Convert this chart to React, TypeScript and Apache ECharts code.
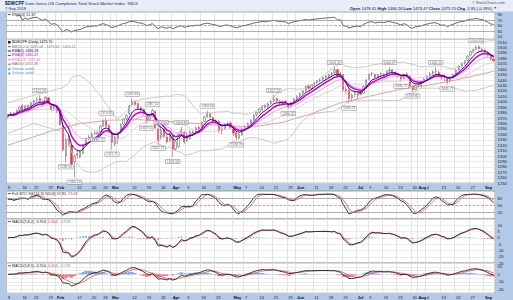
import { useEffect, useRef } from "react";
import * as echarts from "echarts";

const HOLIDAYS = ["2018-01-15", "2018-02-19", "2018-03-30", "2018-05-28", "2018-07-04", "2018-09-03"];

function tradingDays(start: string, end: string): string[] {
  const out: string[] = [];
  const d = new Date(start + "T00:00:00Z");
  const e = new Date(end + "T00:00:00Z");
  while (d <= e) {
    const wd = d.getUTCDay();
    const s = d.toISOString().slice(0, 10);
    if (wd !== 0 && wd !== 6 && HOLIDAYS.indexOf(s) < 0) out.push(s);
    d.setUTCDate(d.getUTCDate() + 1);
  }
  return out;
}
const dates = tradingDays("2018-01-08", "2018-09-07");

// [open, close, low, high]
const ohlc: number[][] = [
  [1372, 1375, 1369, 1377], [1376, 1378, 1373, 1381], [1379, 1376, 1372, 1381], [1377, 1384, 1375, 1386], [1385, 1390, 1382, 1392],
  [1393, 1385, 1383, 1396], [1386, 1392, 1384, 1394], [1393, 1390, 1387, 1395], [1391, 1398, 1389, 1400],
  [1399, 1402, 1396, 1404], [1403, 1404, 1399, 1408], [1406, 1400, 1397, 1412.26], [1401, 1396, 1392, 1404], [1398, 1408, 1396, 1410],
  [1407, 1398, 1396, 1409], [1396, 1385, 1382, 1397], [1388, 1390, 1383, 1394], [1391, 1383, 1379, 1394], [1381, 1358, 1356, 1383],
  [1356, 1312, 1308, 1360], [1300, 1330, 1288.34, 1333], [1331, 1322, 1318, 1340], [1320, 1285, 1283, 1322], [1290, 1300, 1260.14, 1303],
  [1304, 1302, 1295, 1312], [1298, 1308, 1296, 1310], [1305, 1320, 1303, 1322], [1321, 1332, 1318, 1334], [1333, 1335, 1329, 1339],
  [1334, 1340, 1331, 1344], [1342, 1341, 1339.8, 1348], [1341, 1343, 1338.71, 1347], [1345, 1355, 1343, 1357],
  [1356, 1365, 1354, 1367], [1366, 1355, 1353, 1370.8], [1356, 1345, 1343, 1359], [1344, 1325, 1311.75, 1347], [1322, 1335, 1318, 1337],
  [1333, 1342, 1322, 1344], [1343, 1358, 1341, 1360], [1359, 1368, 1356, 1370], [1369, 1375, 1365, 1377], [1378, 1392, 1376, 1394],
  [1394, 1400, 1392, 1405.84], [1401, 1395, 1392, 1403], [1397, 1388, 1386, 1399], [1389, 1385, 1382, 1392], [1386, 1378, 1374, 1388],
  [1376, 1365, 1359.55, 1378], [1367, 1372, 1364, 1375], [1373, 1384, 1371, 1387.32], [1382, 1352, 1350, 1384], [1350, 1328, 1322.74, 1353],
  [1335, 1348, 1330, 1353.65], [1350, 1336, 1332, 1352], [1335, 1326, 1323, 1340], [1328, 1340, 1326, 1343],
  [1338, 1312, 1298.33, 1340], [1313, 1326, 1310, 1328], [1318, 1340, 1315, 1342], [1342, 1348, 1339, 1353.8], [1344, 1326, 1322, 1346],
  [1328, 1335, 1326, 1345], [1332, 1345, 1330, 1348], [1344, 1342, 1338, 1348], [1345, 1352, 1343, 1354], [1353, 1350, 1346, 1356],
  [1352, 1362, 1350, 1364], [1364, 1372, 1362, 1374], [1373, 1378, 1370, 1383.84], [1377, 1372, 1369, 1380], [1371, 1364, 1361, 1373],
  [1365, 1362, 1358, 1368], [1364, 1346, 1342, 1367], [1347, 1350, 1340, 1353], [1351, 1358, 1348, 1360], [1359, 1360, 1355, 1363],
  [1361, 1352, 1350, 1364], [1350, 1342, 1337, 1354], [1343, 1334, 1328.73, 1346], [1333, 1340, 1330, 1342], [1339, 1350, 1337, 1352],
  [1351, 1352, 1347, 1356], [1353, 1360, 1350, 1362], [1361, 1366, 1358, 1368], [1367, 1375, 1365, 1377], [1376, 1380, 1373, 1382],
  [1381, 1386, 1378, 1388], [1385, 1392, 1383, 1394], [1393, 1390, 1386, 1395], [1391, 1396, 1388, 1398], [1397, 1400, 1394, 1403],
  [1402, 1405, 1399, 1412.54], [1406, 1402, 1398, 1408], [1401, 1398, 1394, 1404], [1397, 1400, 1393, 1403], [1401, 1399, 1395, 1403],
  [1396, 1390, 1386.32, 1398], [1391, 1398, 1389, 1400], [1397, 1405, 1395, 1407], [1406, 1410, 1403, 1412],
  [1411, 1415, 1408, 1417], [1416, 1420, 1413, 1422], [1421, 1428, 1418, 1430], [1429, 1425, 1421, 1432], [1424, 1430, 1421, 1432],
  [1431, 1434, 1428, 1436], [1435, 1438, 1432, 1440], [1439, 1440, 1435, 1443], [1441, 1445, 1437, 1447], [1444, 1447, 1440, 1449],
  [1446, 1450, 1443, 1452], [1451, 1452, 1446, 1455], [1453, 1458, 1450, 1464.32], [1459, 1448, 1445, 1461], [1449, 1452, 1444, 1455],
  [1450, 1422, 1418, 1451], [1423, 1420, 1414, 1428], [1421, 1406, 1396.29, 1426], [1407, 1412, 1401, 1415], [1414, 1415, 1409, 1420],
  [1412, 1418, 1405, 1420], [1420, 1414, 1412, 1423], [1416, 1428, 1414, 1430], [1427, 1440, 1425, 1442],
  [1441, 1450, 1439, 1452], [1451, 1452, 1447, 1455], [1450, 1445, 1442, 1452], [1446, 1450, 1443, 1452], [1451, 1452, 1447, 1454],
  [1451, 1450, 1446, 1453], [1449, 1456, 1447, 1458], [1457, 1458, 1453, 1464.37], [1459, 1455, 1451, 1460], [1454, 1452, 1448, 1456],
  [1451, 1448, 1444, 1453], [1447, 1442, 1436.77, 1449], [1443, 1450, 1441, 1452], [1451, 1446, 1443, 1454], [1447, 1428, 1425, 1449],
  [1429, 1422, 1418.82, 1431], [1423, 1430, 1421, 1432], [1431, 1432, 1427, 1435], [1430, 1436, 1426, 1438], [1437, 1442, 1434, 1444],
  [1443, 1447, 1440, 1449], [1448, 1452, 1445, 1455], [1453, 1455, 1450, 1458], [1455, 1456, 1451, 1464.16], [1454, 1450, 1446, 1457],
  [1449, 1444, 1440, 1451], [1445, 1446, 1438, 1450], [1444, 1436, 1431.77, 1446], [1438, 1444, 1436, 1446], [1445, 1450, 1442, 1452],
  [1451, 1458, 1449, 1460], [1459, 1465, 1457, 1467], [1466, 1470, 1463, 1472], [1471, 1474, 1468, 1477], [1476, 1484, 1474, 1486],
  [1486, 1492, 1484, 1494], [1493, 1496, 1490, 1498], [1497, 1500, 1494, 1504.33], [1501, 1498, 1494, 1503], [1497, 1496, 1491, 1500],
  [1495, 1492, 1486, 1497], [1491, 1486, 1482, 1493], [1485, 1478.55, 1475, 1488], [1478.41, 1475.7, 1473.47, 1484.26],
];

// MA(50) (sparse points)
const ma50Points: number[][] = [
  [0, 1320], [15, 1346], [25, 1360], [35, 1366], [45, 1367], [55, 1364], [65, 1360], [75, 1356], [85, 1354],
  [95, 1362], [105, 1378], [115, 1398], [125, 1410], [135, 1422], [145, 1430], [155, 1440], [168, 1456],
];
// Bollinger band values read for the first days (before a full 20-day window)
const bbUpperEarly: number[][] = [[0, 1398], [9, 1412]];
const bbMidEarly: number[][] = [[0, 1370], [9, 1386]];
const bbLowerEarly: number[][] = [[0, 1342], [9, 1360]];

const peakLabels: number[][] = [
  [11, 1412.26], [34, 1370.8], [43, 1405.84], [50, 1387.32], [53, 1353.65], [60, 1353.8], [69, 1383.84],
  [92, 1412.54], [113, 1464.32], [132, 1464.37], [148, 1464.16], [162, 1504.33],
];
const troughLabels: number[][] = [
  [20, 1288.34], [23, 1260.14], [31, 1338.71], [36, 1311.75], [48, 1359.55], [52, 1322.74], [57, 1298.33],
  [79, 1328.73], [97, 1386.32], [118, 1396.29], [136, 1436.77], [140, 1418.82], [152, 1431.77],
];

const dateTicks: [number, string][] = [
  [0, "8"], [5, "16"], [9, "22"], [14, "29"], [17, "Feb"], [24, "12"], [29, "20"], [33, "26"], [36, "Mar"],
  [43, "12"], [48, "19"], [53, "26"], [57, "Apr"], [62, "9"], [67, "16"], [72, "23"], [78, "May"], [82, "7"],
  [87, "14"], [92, "21"], [97, "29"], [100, "Jun"], [106, "11"], [111, "18"], [116, "25"], [121, "Jul"], [125, "9"],
  [130, "16"], [135, "23"], [140, "30"], [142, "Aug"], [145, "6"], [150, "13"], [155, "20"], [160, "27"], [165, "Sep"],
];
const extraGridDays: number[] = [19, 38];

const legendItems = [
  { text: "$DWCPF (Daily) 1475.70", color: "#000000", icon: "sq" },
  { text: "BB(20,2.0) 1495.08 - 1475.60 - 1456.12", color: "#777777", icon: "ln" },
  { text: "EMA(5) 1480.28", color: "#000080", icon: "ln" },
  { text: "EMA(8) 1482.45", color: "#cc00cc", icon: "ln" },
  { text: "EMA(13) 1483.46", color: "#ee77c8", icon: "ln" },
  { text: "MA(50) 1457.28", color: "#cc5050", icon: "ln" },
  { text: "Volume undef", color: "#4f94dd", icon: "tri" },
  { text: "Volume undef", color: "#4f94dd", icon: "tri" },
];

function ema(src: number[], n: number): number[] {
  const k = 2 / (n + 1);
  const out: number[] = [];
  src.forEach((v, i) => out.push(i === 0 ? v : v * k + out[i - 1] * (1 - k)));
  return out;
}
function sma(src: number[], n: number): number[] {
  return src.map((_, i) => {
    const s = Math.max(0, i - n + 1);
    let t = 0;
    for (let j = s; j <= i; j++) t += src[j];
    return t / (i - s + 1);
  });
}

export default function App() {
  const ref = useRef<HTMLDivElement>(null);
  useEffect(() => {
    if (!ref.current) return;
    const chart = echarts.init(ref.current, null, { renderer: "svg" });

    const closes = ohlc.map((d) => d[1]);
    const lows = ohlc.map((d) => d[2]);
    const highs = ohlc.map((d) => d[3]);
    const ema5 = ema(closes, 5);
    const ema8 = ema(closes, 8);
    const ema13 = ema(closes, 13);
    const macd = ema5.map((v, i) => v - ema8[i]);
    const sig2 = ema(macd, 2);
    const sig5 = ema(macd, 5);
    const hist2 = macd.map((v, i) => v - sig2[i]);
    const hist5 = macd.map((v, i) => v - sig5[i]);

    // RSI(14)
    const rsi: (number | null)[] = [null];
    let ag = 0, al = 0;
    for (let i = 1; i < closes.length; i++) {
      const ch = closes[i] - closes[i - 1];
      const g = Math.max(ch, 0), l = Math.max(-ch, 0);
      if (i <= 14) { ag = (ag * (i - 1) + g) / i; al = (al * (i - 1) + l) / i; }
      else { ag = (ag * 13 + g) / 14; al = (al * 13 + l) / 14; }
      rsi.push(i < 3 ? null : al === 0 ? 100 : 100 - 100 / (1 + ag / al));
    }
    // Full STO
    const fastK = closes.map((c, i) => {
      const s = Math.max(0, i - 13);
      let hh = -Infinity, ll = Infinity;
      for (let j = s; j <= i; j++) { hh = Math.max(hh, highs[j]); ll = Math.min(ll, lows[j]); }
      return hh === ll ? 50 : ((c - ll) / (hh - ll)) * 100;
    });
    const slowK = sma(fastK, 3);
    const pctD = sma(slowK, 3);
    // Bollinger
    const bbU: number[][] = [...bbUpperEarly];
    const bbM: number[][] = [...bbMidEarly];
    const bbL: number[][] = [...bbLowerEarly];
    for (let i = 19; i < closes.length; i++) {
      let m = 0;
      for (let j = i - 19; j <= i; j++) m += closes[j];
      m /= 20;
      let v = 0;
      for (let j = i - 19; j <= i; j++) v += (closes[j] - m) ** 2;
      const sd = Math.sqrt(v / 20);
      bbU.push([i, m + 2 * sd]);
      bbM.push([i, m]);
      bbL.push([i, m - 2 * sd]);
    }

    const labelMap: Record<number, string> = {};
    dateTicks.forEach(([i, s]) => (labelMap[i] = s));
    const gridDays = new Set<number>([...dateTicks.map((d) => d[0]), ...extraGridDays]);
    const months = ["Feb", "Mar", "Apr", "May", "Jun", "Jul", "Aug", "Sep"];
    const FONT = "Liberation Sans, Arial, sans-serif";

    const L = 6.5, W = 488.5;
    const grids = [
      { top: 12, height: 27.3 },
      { top: 39.3, height: 143.9 },
      { top: 191, height: 28 },
      { top: 219, height: 44.1 },
      { top: 263.1, height: 30.1 },
    ].map((g) => ({ left: L, width: W, top: g.top, height: g.height, show: true, backgroundColor: "#ffffff", borderColor: "#8a8a8a", borderWidth: 0.8 }));

    const xAxis = grids.map((_, gi) => ({
      type: "category",
      gridIndex: gi,
      data: dates,
      boundaryGap: true,
      axisLine: { show: false },
      axisTick: { show: false },
      axisLabel: {
        show: gi === 1 || gi === 4,
        interval: (i: number) => labelMap[i] !== undefined,
        formatter: (_v: string, i: number) => {
          const s = labelMap[i] || "";
          return months.indexOf(s) >= 0 ? "{m|" + s + "}" : s;
        },
        fontSize: 4,
        fontFamily: FONT,
        color: "#222",
        align: "left",
        margin: 2,
        rich: { m: { fontSize: 4, fontWeight: "bold", fontFamily: FONT, color: "#111" } },
      },
      splitLine: { show: true, interval: (i: number) => gridDays.has(i), lineStyle: { color: "#d4d4d4", width: 0.6 } },
    }));

    const yBase = (gi: number, min: number, max: number, interval: number, fmt: (v: number) => string, split: boolean) => ({
      type: "value",
      gridIndex: gi,
      position: "right",
      min,
      max,
      interval,
      axisLine: { show: false },
      axisTick: { show: false },
      axisLabel: { fontSize: 4.2, fontFamily: FONT, color: "#222", margin: 2.5, showMaxLabel: false, formatter: fmt },
      splitLine: { show: split, lineStyle: { color: "#e0e0e0", width: 0.6 } },
    });

    const yAxis = [
      yBase(0, 0, 100, 10, (v) => (v % 20 === 10 ? String(v) : ""), false),
      yBase(1, 1250, 1515, 10, (v) => (v % 10 === 0 ? String(v) : ""), true),
      yBase(2, -10, 110, 10, (v) => (v === 20 || v === 50 || v === 80 ? String(v) : ""), false),
      yBase(3, -20, 15, 5, (v) => String(v), true),
      yBase(4, -25, 15, 5, (v) => (v % 10 === 0 ? String(v) : ""), true),
    ];

    const hline = (vals: number[], dashed: number[]) => ({
      silent: true,
      symbol: "none",
      label: { show: false },
      animation: false,
      data: vals.map((v) => ({ yAxis: v, lineStyle: { color: "#8c8c8c", width: 0.7, type: dashed.indexOf(v) >= 0 ? "dashed" : "solid" } })),
    });

    const line = (name: string, xi: number, data: any[], color: string, width: number, z = 3) => ({
      name, type: "line", xAxisIndex: xi, yAxisIndex: xi, data, showSymbol: false, symbol: "none",
      lineStyle: { color, width }, z, connectNulls: true, silent: true,
    });

    const annot = (data: number[][], pos: "top" | "bottom") => ({
      type: "scatter", xAxisIndex: 1, yAxisIndex: 1, data, symbol: "circle", symbolSize: 0.1, z: 6, silent: true,
      itemStyle: { color: "rgba(0,0,0,0)" },
      label: {
        show: true, position: pos, distance: 2.5, formatter: (p: any) => p.value[1].toFixed(2),
        fontSize: 3.4, fontFamily: FONT, color: "#333", backgroundColor: "#ffffff", borderColor: "#777", borderWidth: 0.5, padding: [0.6, 1, 0.2, 1],
      },
    });

    const barColor = (pos: string, neg: string) => (p: any) => (p.value >= 0 ? pos : neg);

    const legendEls: any[] = [];
    legendItems.forEach((it, k) => {
      const y = 42.2 + k * 4.4;
      if (it.icon === "sq") legendEls.push({ type: "rect", shape: { x: 8, y: y - 1.3, width: 2.6, height: 2.6 }, style: { fill: "#222" }, z: 100 });
      else if (it.icon === "tri") legendEls.push({ type: "polygon", shape: { points: [[8, y + 1.3], [10.6, y + 1.3], [9.3, y - 1.4]] }, style: { fill: it.color }, z: 100 });
      else legendEls.push({ type: "line", shape: { x1: 7.8, y1: y, x2: 10.8, y2: y }, style: { stroke: it.color, lineWidth: 1 }, z: 100 });
      legendEls.push({ type: "text", x: 12, y, style: { text: it.text, fill: it.color, font: `3.6px ${FONT}`, verticalAlign: "middle" }, z: 100 });
    });

    const panelTitle = (y: number, text: string, rich: any) => ([
      { type: "line", shape: { x1: 7.8, y1: y, x2: 10.8, y2: y }, style: { stroke: "#222", lineWidth: 0.8 }, z: 100 },
      { type: "text", x: 12, y, style: { text, fill: "#222", font: `3.8px ${FONT}`, verticalAlign: "middle", rich }, z: 100 },
    ]);

    const richBase = (c: string) => ({ fill: c, fontSize: 3.8, fontFamily: FONT });

    const option: any = {
      animation: false,
      backgroundColor: "#b2cae8",
      grid: grids,
      xAxis,
      yAxis,
      graphic: [
        { type: "rect", shape: { x: 0, y: 0, width: 513, height: 11.5 }, style: { fill: "#e7eef8" }, z: 50 },
        { type: "text", x: 5, y: 3.3, style: { text: "{b|$DWCPF} Dow Jones US Completion Total Stock Market Index  INDX", fill: "#1a2a55", font: `4.3px ${FONT}`, verticalAlign: "middle", rich: { b: { fill: "#10205a", fontSize: 4.6, fontWeight: "bold", fontFamily: FONT } } }, z: 100 },
        { type: "text", x: 5, y: 8.3, style: { text: "7-Sep-2018", fill: "#1a2a55", font: `4px ${FONT}`, verticalAlign: "middle" }, z: 100 },
        { type: "text", x: 505, y: 2.8, style: { text: "© StockCharts.com", fill: "#555", font: `3.8px ${FONT}`, align: "right", verticalAlign: "middle" }, z: 100 },
        { type: "text", x: 497, y: 8.4, style: {
          text: "{b|Open} 1478.41 {b|High} 1484.26 {b|Low} 1473.47 {b|Close} 1475.70 {b|Chg} -2.85 (-0.19%) {r|▼}",
          fill: "#111", font: `4.1px ${FONT}`, align: "right", verticalAlign: "middle",
          rich: { b: { fontWeight: "bold", fill: "#10205a", fontSize: 4.1, fontFamily: FONT }, r: { fill: "#d02020", fontSize: 3.6, fontFamily: FONT } },
        }, z: 100 },
        ...panelTitle(14.6, "RSI(14) 51.67", {}),
        ...panelTitle(193.6, "Full STO %K(14,3) %D(3) {k|57.81,} {d|73.49}", { k: richBase("#222"), d: richBase("#e03030") }),
        ...panelTitle(221.6, "MACD(5,8,2) {k|-0.914,} {d|0.004,} {h|-0.918}", { k: richBase("#222"), d: richBase("#e03030"), h: richBase("#4f8fdd") }),
        ...panelTitle(265.8, "MACD(5,8,5) {k|-0.914,} {d|0.204,} {h|-1.118}", { k: richBase("#222"), d: richBase("#e03030"), h: richBase("#4f8fdd") }),
        ...legendEls,
      ],
      series: [
        { ...line("RSI", 0, rsi, "#555555", 0.9), markLine: hline([70, 50, 30], [50]) },
        {
          name: "$DWCPF", type: "candlestick", xAxisIndex: 1, yAxisIndex: 1, data: ohlc, barWidth: 1.7, z: 2, silent: true,
          itemStyle: { color: "#ffffff", color0: "#e8344e", borderColor: "#555555", borderColor0: "#e8344e", borderWidth: 0.5 },
        },
        line("BB upper", 1, bbU, "#bdbdbd", 0.8),
        line("BB mid", 1, bbM, "#d3c8e6", 0.8),
        line("BB lower", 1, bbL, "#bdbdbd", 0.8),
        line("MA50", 1, ma50Points, "#dd9a9a", 0.9),
        line("EMA13", 1, ema13, "#f3a0d8", 1),
        line("EMA8", 1, ema8, "#cc00cc", 1.5, 4),
        line("EMA5", 1, ema5, "#000080", 0.9, 5),
        annot(peakLabels, "top"),
        annot(troughLabels, "bottom"),
        { ...line("%K", 2, slowK, "#222222", 0.9, 4), markLine: hline([80, 50, 20], [50]) },
        line("%D", 2, pctD, "#e05050", 0.8),
        { type: "bar", xAxisIndex: 3, yAxisIndex: 3, data: hist2, barWidth: 1.4, silent: true, itemStyle: { color: barColor("#6f9fe0", "#ee6a80") } },
        line("MACD1", 3, macd, "#222222", 0.9, 4),
        line("Signal1", 3, sig2, "#e05050", 0.8),
        { type: "bar", xAxisIndex: 4, yAxisIndex: 4, data: hist5, barCategoryGap: "0%", silent: true, itemStyle: { color: barColor("#7aa8e6", "#f0748a") } },
        line("MACD2", 4, macd, "#222222", 0.9, 4),
        line("Signal2", 4, sig5, "#e05050", 0.8),
      ],
    };
    chart.setOption(option);
    return () => chart.dispose();
  }, []);
  return <div ref={ref} style={{ position: "fixed", left: 0, top: 0, width: 513, height: 300 }} />;
}
